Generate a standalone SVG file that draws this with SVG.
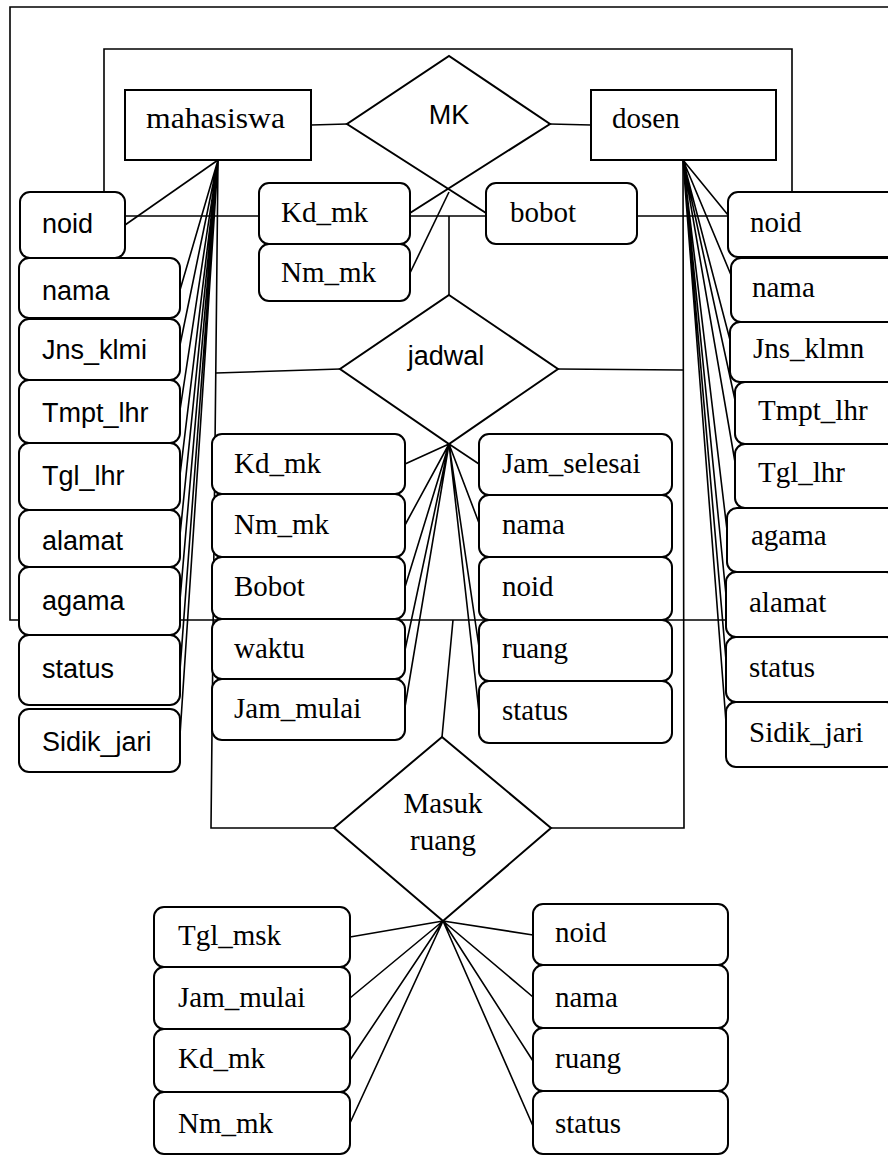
<svg xmlns="http://www.w3.org/2000/svg" width="888" height="1157" viewBox="0 0 888 1157">
  <style>
    .ln { fill: none; stroke: #000; stroke-width: 1.6; stroke-linejoin: miter; }
    .box { fill: #fff; stroke: #000; stroke-width: 2; }
    .ent { fill: #fff; stroke: #000; stroke-width: 2; }
    .rel { fill: #fff; stroke: #000; stroke-width: 2; stroke-linejoin: miter; }
    .sans { font-family: "Liberation Sans", Arial, sans-serif; font-size: 27px; fill: #000; }
    .serif { font-family: "Liberation Serif", "Times New Roman", serif; font-size: 29px; fill: #000; }
    .mid { text-anchor: middle; }
  </style>
  <rect width="888" height="1157" fill="#fff"/>

  <!-- connectors -->
  <g id="connectors" class="ln">
    <path d="M888,7 H10 V620 H888"/>
    <path d="M104,192 V49 H792 V192"/>
    <path d="M311,125 L347,124"/>
    <path d="M550,124 L591,125"/>
    <path d="M125,216 H728"/>
    <path d="M449,216 V295"/>
    <path d="M410,273 L449,192"/>
    <path d="M125,225 L218,160"/>
    <!-- mahasiswa attributes -->
    <path d="M218,160 L180,290 M218,160 L180,345 M218,160 L180,410 M218,160 L180,475 M218,160 L180,535 M218,160 L180,600 M218,160 L180,670 M218,160 L180,735"/>
    <path d="M218,160 L211,828 H334"/>
    <path d="M216,373 L340,369"/>
    <path d="M558,369 L683,370"/>
    <path d="M683,160 L684,828 H551"/>
    <!-- dosen attributes -->
    <path d="M683,160 L728,215 M683,160 L731,275 M683,160 L730,340 M683,160 L735,400 M683,160 L735,462 M683,160 L727,530 M683,160 L726,595 M683,160 L726,660 M683,160 L726,722"/>
    <!-- jadwal attributes -->
    <path d="M449,444 L405,464 M449,444 L405,525 M449,444 L405,587 M449,444 L405,650 M449,444 L405,707"/>
    <path d="M449,444 L479,464 M449,444 L479,523 M449,444 L479,647 M449,444 L479,712"/>
    <path d="M442,737 L453,620"/>
    <!-- masuk ruang attributes -->
    <path d="M443,921 L350,937 M443,921 L350,998 M443,921 L350,1060 M443,921 L350,1123"/>
    <path d="M443,921 L533,935 M443,921 L533,997 M443,921 L533,1061 M443,921 L533,1126"/>
  </g>

  <!-- entities -->
  <g id="mahasiswa">
    <rect class="ent" x="125" y="90" width="186" height="70"/>
    <text class="serif" x="146" y="128" textLength="139" lengthAdjust="spacingAndGlyphs">mahasiswa</text>
  </g>
  <g id="dosen">
    <rect class="ent" x="591" y="90" width="185" height="70"/>
    <text class="serif" x="612" y="128">dosen</text>
  </g>

  <!-- relationships -->
  <g id="rel-mk">
    <path class="ln" style="stroke-width:2" d="M486,213 L347,124 L449,56 L550,124 L410,213"/>
    <text class="sans mid" x="449" y="124">MK</text>
  </g>
  <g id="rel-jadwal">
    <polygon class="rel" points="449,295 558,369 449,444 340,369"/>
    <text class="sans mid" x="446" y="365">jadwal</text>
  </g>
  <g id="rel-masuk-ruang">
    <polygon class="rel" points="442,737 551,828 443,921 334,828"/>
    <text class="serif mid" x="443" y="813">Masuk</text>
    <text class="serif mid" x="443" y="850">ruang</text>
  </g>

  <!-- mahasiswa attributes -->
  <g id="mhs-noid"><rect class="box" x="20" y="192" width="105" height="66" rx="10"/><text class="sans" x="42" y="233">noid</text></g>
  <g id="mhs-nama"><rect class="box" x="19" y="258" width="161" height="60" rx="10"/><text class="sans" x="42" y="300">nama</text></g>
  <g id="mhs-jns"><rect class="box" x="19" y="319" width="161" height="61" rx="10"/><text class="sans" x="42" y="359">Jns_klmi</text></g>
  <g id="mhs-tmpt"><rect class="box" x="19" y="380" width="161" height="63" rx="10"/><text class="sans" x="42" y="422">Tmpt_lhr</text></g>
  <g id="mhs-tgl"><rect class="box" x="19" y="443" width="161" height="67" rx="10"/><text class="sans" x="42" y="485">Tgl_lhr</text></g>
  <g id="mhs-alamat"><rect class="box" x="19" y="510" width="161" height="57" rx="10"/><text class="sans" x="42" y="550">alamat</text></g>
  <g id="mhs-agama"><rect class="box" x="19" y="567" width="161" height="68" rx="10"/><text class="sans" x="42" y="610">agama</text></g>
  <g id="mhs-status"><rect class="box" x="19" y="635" width="161" height="70" rx="10"/><text class="sans" x="42" y="678">status</text></g>
  <g id="mhs-sidik"><rect class="box" x="19" y="709" width="161" height="63" rx="10"/><text class="sans" x="42" y="751">Sidik_jari</text></g>

  <!-- MK attributes -->
  <g id="mk-kd"><rect class="box" x="259" y="183" width="151" height="61" rx="10"/><text class="serif" x="281" y="222">Kd_mk</text></g>
  <g id="mk-nm"><rect class="box" x="259" y="244" width="151" height="57" rx="10"/><text class="serif" x="281" y="282">Nm_mk</text></g>
  <g id="mk-bobot"><rect class="box" x="486" y="183" width="151" height="61" rx="10"/><text class="serif" x="510" y="222">bobot</text></g>

  <!-- dosen attributes -->
  <g id="dsn-noid"><rect class="box" x="728" y="192" width="170" height="65" rx="10"/><text class="serif" x="750" y="232">noid</text></g>
  <g id="dsn-nama"><rect class="box" x="731" y="258" width="170" height="64" rx="10"/><text class="serif" x="752" y="297">nama</text></g>
  <g id="dsn-jns"><rect class="box" x="730" y="322" width="170" height="60" rx="10"/><text class="serif" x="753" y="358">Jns_klmn</text></g>
  <g id="dsn-tmpt"><rect class="box" x="735" y="382" width="170" height="62" rx="10"/><text class="serif" x="758" y="420">Tmpt_lhr</text></g>
  <g id="dsn-tgl"><rect class="box" x="735" y="444" width="170" height="64" rx="10"/><text class="serif" x="758" y="482">Tgl_lhr</text></g>
  <g id="dsn-agama"><rect class="box" x="727" y="508" width="170" height="64" rx="10"/><text class="serif" x="751" y="545">agama</text></g>
  <g id="dsn-alamat"><rect class="box" x="726" y="572" width="170" height="65" rx="10"/><text class="serif" x="749" y="612">alamat</text></g>
  <g id="dsn-status"><rect class="box" x="726" y="637" width="170" height="65" rx="10"/><text class="serif" x="749" y="677">status</text></g>
  <g id="dsn-sidik"><rect class="box" x="726" y="702" width="170" height="65" rx="10"/><text class="serif" x="749" y="742">Sidik_jari</text></g>

  <!-- jadwal attributes -->
  <g id="jdw-kd"><rect class="box" x="212" y="434" width="193" height="60" rx="10"/><text class="serif" x="234" y="473">Kd_mk</text></g>
  <g id="jdw-nm"><rect class="box" x="212" y="494" width="193" height="63" rx="10"/><text class="serif" x="234" y="534">Nm_mk</text></g>
  <g id="jdw-bobot"><rect class="box" x="212" y="557" width="193" height="62" rx="10"/><text class="serif" x="234" y="596">Bobot</text></g>
  <g id="jdw-waktu"><rect class="box" x="212" y="619" width="193" height="60" rx="10"/><text class="serif" x="234" y="658">waktu</text></g>
  <g id="jdw-mulai"><rect class="box" x="212" y="679" width="193" height="61" rx="10"/><text class="serif" x="234" y="718">Jam_mulai</text></g>
  <g id="jdw-selesai"><rect class="box" x="479" y="434" width="193" height="61" rx="10"/><text class="serif" x="502" y="473">Jam_selesai</text></g>
  <g id="jdw-nama"><rect class="box" x="479" y="495" width="193" height="62" rx="10"/><text class="serif" x="502" y="534">nama</text></g>
  <g id="jdw-noid"><rect class="box" x="479" y="557" width="193" height="63" rx="10"/><text class="serif" x="502" y="596">noid</text></g>
  <g id="jdw-ruang"><rect class="box" x="479" y="620" width="193" height="61" rx="10"/><text class="serif" x="502" y="658">ruang</text></g>
  <g id="jdw-status"><rect class="box" x="479" y="681" width="193" height="62" rx="10"/><text class="serif" x="502" y="720">status</text></g>

  <!-- masuk ruang attributes -->
  <g id="msk-tgl"><rect class="box" x="154" y="907" width="196" height="60" rx="10"/><text class="serif" x="178" y="945">Tgl_msk</text></g>
  <g id="msk-mulai"><rect class="box" x="154" y="967" width="196" height="62" rx="10"/><text class="serif" x="178" y="1007">Jam_mulai</text></g>
  <g id="msk-kd"><rect class="box" x="154" y="1029" width="196" height="63" rx="10"/><text class="serif" x="178" y="1068">Kd_mk</text></g>
  <g id="msk-nm"><rect class="box" x="154" y="1092" width="196" height="62" rx="10"/><text class="serif" x="178" y="1133">Nm_mk</text></g>
  <g id="msk-noid"><rect class="box" x="533" y="904" width="195" height="61" rx="10"/><text class="serif" x="555" y="942">noid</text></g>
  <g id="msk-nama"><rect class="box" x="533" y="965" width="195" height="63" rx="10"/><text class="serif" x="555" y="1007">nama</text></g>
  <g id="msk-ruang"><rect class="box" x="533" y="1028" width="195" height="63" rx="10"/><text class="serif" x="555" y="1068">ruang</text></g>
  <g id="msk-status"><rect class="box" x="533" y="1091" width="195" height="63" rx="10"/><text class="serif" x="555" y="1133">status</text></g>
</svg>
